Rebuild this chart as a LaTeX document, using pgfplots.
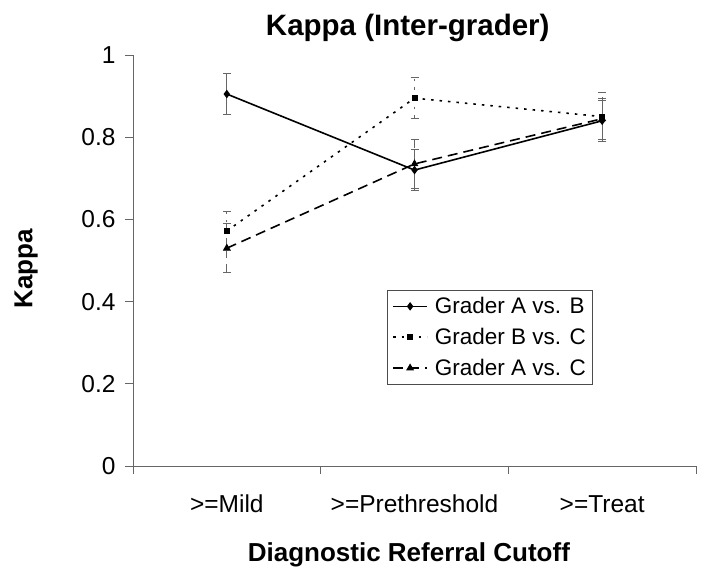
\documentclass[border=0pt]{standalone}
\usepackage{pgfplots}
\pgfplotsset{compat=1.18}
\usepackage{fontspec}
\setmainfont{Liberation Sans}
\begin{document}
\begin{tikzpicture}
\begin{axis}[
    scale only axis, width=563pt, height=411pt,
    xmin=-0.5, xmax=2.5, ymin=0, ymax=1,
    axis lines*=left,
    axis line style={black!60, line width=0.9pt},
    tick align=outside,
    major tick length=8pt, minor tick length=8pt,
    tick style={black!60, line width=0.9pt},
    xtick={0,1,2},
    xticklabels={{>=Mild},{>=Prethreshold},{>=Treat}},
    major x tick style={draw=none},
    minor xtick={-0.5,0.5,1.5,2.5},
    ytick={0,0.2,0.4,0.6,0.8,1},
    /pgf/number format/assume math mode=true,
    ticklabel style={font=\fontsize{24.5}{29}\selectfont},
    xticklabel style={text height=18pt, text depth=5pt, yshift=-17pt},
    yticklabel style={xshift=-6pt},
    title={Kappa (Inter-grader)},
    title style={at={(axis description cs:0.488,1)}, anchor=center, yshift=21pt,
        font=\bfseries\fontsize{29.5}{35}\selectfont},
    xlabel={Diagnostic Referral Cutoff},
    xlabel style={at={(axis description cs:0.49,-0.216)}, anchor=center,
        font=\bfseries\fontsize{26}{31}\selectfont},
    ylabel={Kappa},
    ylabel style={at={(axis description cs:-0.19,0.48)}, anchor=center,
        font=\bfseries\fontsize{26}{31}\selectfont},
    legend style={at={(0.451,0.428)}, anchor=north west, draw=black!70,
        line width=0.8pt, font=\fontsize{22.5}{27}\selectfont,
        inner xsep=5pt, inner ysep=5pt, row sep=9pt},
    legend cell align=left,
    legend image code/.code={\draw[mark repeat=2,mark phase=2,#1]
        plot coordinates {(0pt,0pt) (17pt,0pt) (34pt,0pt)};
        \path (39pt,0pt);},
    error bars/error bar style={black!60, line width=0.8pt},
    error bars/error mark options={rotate=90, mark size=4pt, black!60, line width=0.8pt},
]
\addplot[black, line width=1.6pt, mark=diamond*, mark size=3pt,
    error bars/.cd, y dir=both, y explicit]
    coordinates {(0,0.905) +- (0,0.05) (1,0.72) +- (0,0.05) (2,0.84) +- (0,0.05)};
\addlegendentry{Grader A vs. B}
\addplot[black, line width=1.6pt, dash pattern=on 2.5pt off 6pt, mark=square*, mark size=2.2pt,
    mark options={solid},
    error bars/.cd, y dir=both, y explicit]
    coordinates {(0,0.572) +- (0,0.047) (1,0.895) +- (0,0.05) (2,0.85) +- (0,0.06)};
\addlegendentry{Grader B vs. C}
\addplot[black, line width=1.6pt, dash pattern=on 10pt off 6pt, mark=triangle*, mark size=3pt,
    mark options={solid},
    error bars/.cd, y dir=both, y explicit]
    coordinates {(0,0.53) +- (0,0.06) (1,0.735) +- (0,0.06) (2,0.845) +- (0,0.05)};
\addlegendentry{Grader A vs. C}
\end{axis}
\pgfresetboundingbox
\path (-133pt,-116pt) rectangle (575pt,466pt);
\end{tikzpicture}
\end{document}
